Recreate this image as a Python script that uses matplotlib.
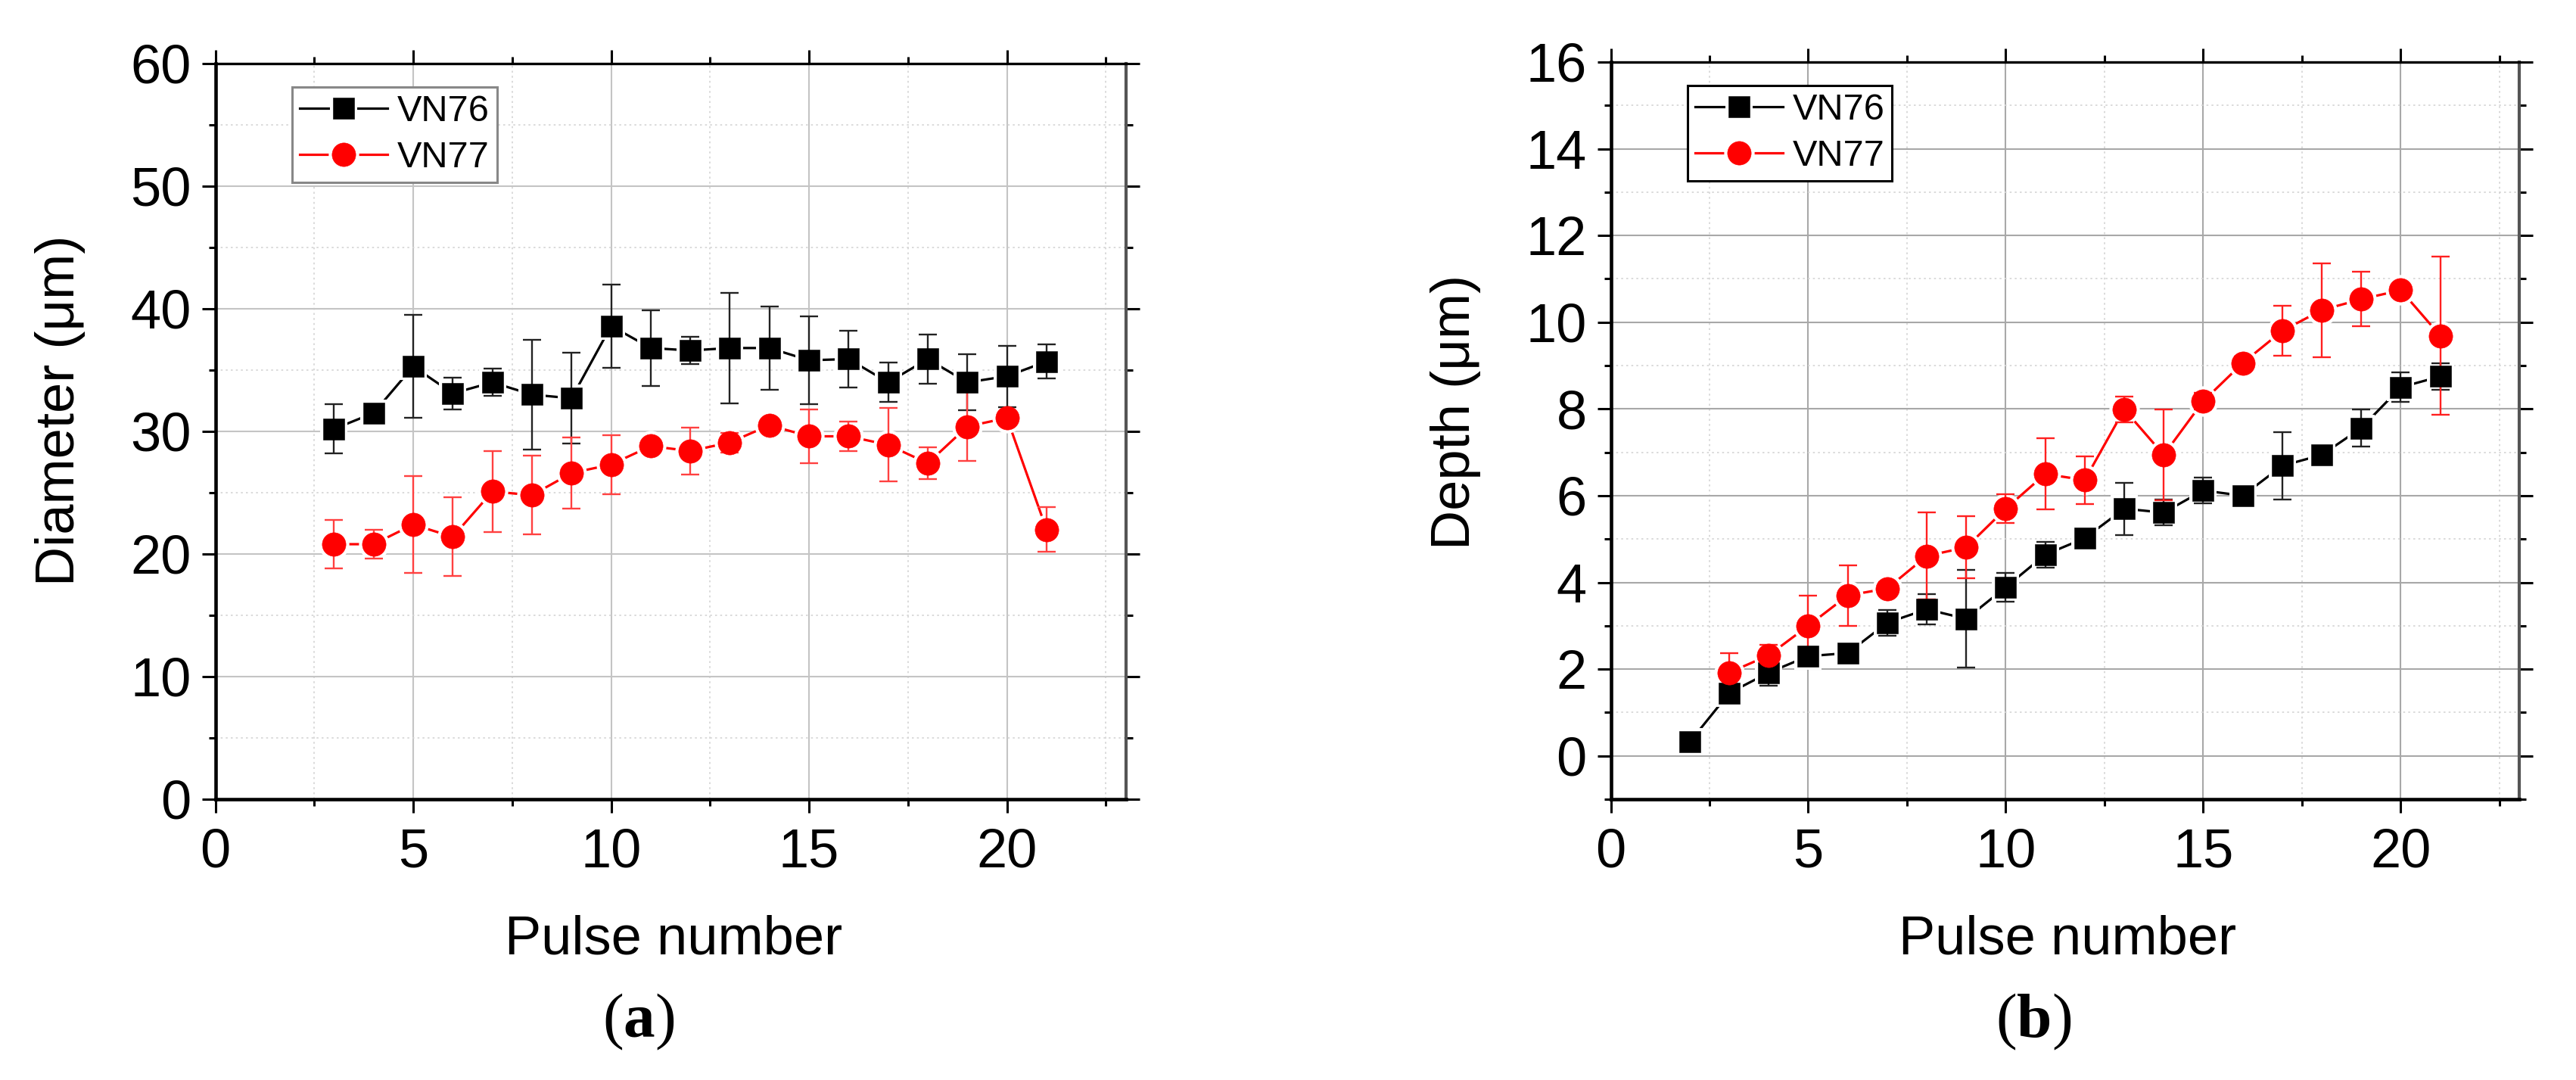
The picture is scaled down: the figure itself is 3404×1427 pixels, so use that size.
import matplotlib
matplotlib.use('Agg')
import matplotlib.pyplot as plt
from matplotlib.lines import Line2D
from matplotlib.legend_handler import HandlerTuple
from matplotlib.ticker import MultipleLocator

# ---------------- data ----------------
pulse_diam = [3, 4, 5, 6, 7, 8, 9, 10, 11, 12, 13, 14, 15, 16, 17, 18, 19, 20, 21]
diam_vn76 = [30.2, 31.5, 35.3, 33.1, 34.0, 33.0, 32.7, 38.6, 36.8, 36.6, 36.8, 36.8,
             35.8, 35.9, 34.0, 35.9, 34.0, 34.5, 35.7]
diam_vn76_err = [2.0, 0.6, 4.2, 1.3, 1.1, 4.5, 3.7, 3.4, 3.1, 1.1, 4.5, 3.4,
                 3.6, 2.3, 1.6, 2.0, 2.3, 2.5, 1.4]
diam_vn77 = [20.8, 20.8, 22.4, 21.4, 25.1, 24.8, 26.6, 27.3, 28.8, 28.4, 29.1, 30.5,
             29.6, 29.6, 28.9, 27.4, 30.4, 31.1, 22.0]
diam_vn77_err = [1.95, 1.15, 3.95, 3.2, 3.3, 3.2, 2.9, 2.4, 0.5, 1.9, 0.8, 0.5,
                 2.2, 1.2, 3.0, 1.3, 2.8, 0.5, 1.8]

pulse_depth_vn76 = [2, 3, 4, 5, 6, 7, 8, 9, 10, 11, 12, 13, 14, 15, 16, 17, 18, 19, 20, 21]
depth_vn76 = [0.32, 1.45, 1.92, 2.30, 2.37, 3.07, 3.38, 3.16, 3.89, 4.64, 5.02, 5.70,
              5.61, 6.12, 6.00, 6.69, 6.94, 7.56, 8.50, 8.75]
depth_vn76_err = [0.0, 0.2, 0.3, 0.2, 0.1, 0.3, 0.35, 1.13, 0.33, 0.3, 0.1, 0.6,
                  0.3, 0.3, 0.1, 0.77, 0.15, 0.42, 0.34, 0.3]
pulse_depth_vn77 = [3, 4, 5, 6, 7, 8, 9, 10, 11, 12, 13, 14, 15, 16, 17, 18, 19, 20, 21]
depth_vn77 = [1.92, 2.32, 3.00, 3.70, 3.86, 4.61, 4.81, 5.70, 6.50, 6.36, 7.99, 6.94,
              8.18, 9.06, 9.80, 10.28, 10.53, 10.74, 9.69]
depth_vn77_err = [0.45, 0.24, 0.70, 0.70, 0.15, 1.0, 0.72, 0.33, 0.82, 0.55, 0.3, 1.05,
                  0.2, 0.15, 0.58, 1.08, 0.63, 0.15, 1.82]

series_names = ['VN76', 'VN77']
diam_ylabel = 'Diameter (\u03bcm)'
depth_ylabel = 'Depth (\u03bcm)'
xlabel = 'Pulse number'

# ---------------- style ----------------
plt.rcParams['font.family'] = ['Liberation Sans', 'DejaVu Sans']
plt.rcParams['mathtext.fontset'] = 'custom'
plt.rcParams['mathtext.rm'] = 'Liberation Serif'
plt.rcParams['mathtext.bf'] = 'Liberation Serif:bold'

W, H, DPI = 3404, 1427, 100
fig = plt.figure(figsize=(W / DPI, H / DPI), dpi=DPI)
fig.patch.set_facecolor('white')


def px_axes(x0, x1, top, bottom):
    return fig.add_axes([x0 / W, 1 - bottom / H, (x1 - x0) / W, (bottom - top) / H])


axL = px_axes(284.5, 1487.5, 84, 1056)
axR = px_axes(2128.5, 3329, 82, 1056)

SQ_MS = 20.0
CI_MS = 22.5
HALO = 6.5
LW = 2.3


def series(ax, x, y, e, color, ecolor, marker, ms, z):
    ax.plot(x, y, '-', color=color, lw=LW, zorder=2)
    ax.plot(x, y, ls='none', marker=marker, ms=ms + HALO, mfc='white', mec='white',
            mew=0, zorder=3)
    ax.errorbar(x, y, yerr=e, fmt='none', ecolor=ecolor, elinewidth=1.7, capsize=8.3,
                capthick=1.7, zorder=4)
    ax.plot(x, y, ls='none', marker=marker, ms=ms, mfc=color, mec=color, mew=0.4, zorder=z)


def style(ax, ylim, ymaj, ymin, gridcolor, legend_edge, ylabel, ylabel_y):
    ax.set_xlim(0, 23)
    ax.set_ylim(*ylim)
    ax.xaxis.set_major_locator(MultipleLocator(5))
    ax.xaxis.set_minor_locator(MultipleLocator(2.5))
    ax.yaxis.set_major_locator(MultipleLocator(ymaj))
    ax.yaxis.set_minor_locator(MultipleLocator(ymin))
    ax.set_axisbelow(True)
    ax.grid(which='major', color=gridcolor, lw=1.5, zorder=0)
    ax.grid(which='minor', color='#d4d4d4', lw=1.2, linestyle=(0, (1.5, 2.5)), zorder=0)
    ax.tick_params(which='both', direction='out', top=True, right=True, width=2.2,
                   colors='black', labelsize=52)
    ax.tick_params(which='major', length=13)
    ax.tick_params(which='minor', length=6.5)
    ax.tick_params(axis='x', pad=14)
    ax.tick_params(axis='y', pad=10)
    for side in ('left', 'bottom'):
        ax.spines[side].set_linewidth(3.3)
        ax.spines[side].set_color('black')
    ax.spines['top'].set_linewidth(2.4)
    ax.spines['top'].set_color('black')
    ax.spines['right'].set_linewidth(3.0)
    ax.spines['right'].set_color('#555555')

    ax.set_ylabel(ylabel, fontsize=52)
    ax.yaxis.set_label_coords(-0.1426, ylabel_y)
    ax.set_xlabel(xlabel, fontsize=52)
    ax.xaxis.label.set_va('baseline')
    ax.xaxis.set_label_coords(0.503, -0.2104)

    handles = []
    for color, marker, ms in (('black', 's', SQ_MS), ('red', 'o', CI_MS)):
        ln = Line2D([], [], color=color, lw=LW)
        halo = Line2D([], [], ls='none', marker=marker, ms=ms + HALO, mfc='white',
                      mec='white', mew=0)
        mk = Line2D([], [], ls='none', marker=marker, ms=ms, mfc=color, mec=color, mew=0.4)
        handles.append((ln, halo, mk))
    leg = ax.legend(handles, series_names, loc='upper left', bbox_to_anchor=(0.0844, 0.968),
                    borderaxespad=0, fontsize=35, handlelength=2.39, handletextpad=0.27,
                    borderpad=0.2, labelspacing=0.34, frameon=True, fancybox=False,
                    edgecolor=legend_edge, framealpha=1,
                    handler_map={tuple: HandlerTuple(ndivide=1, pad=0)})
    leg.get_frame().set_linewidth(2.2)
    leg.set_zorder(10)


series(axL, pulse_diam, diam_vn76, diam_vn76_err, 'black', '#222222', 's', SQ_MS, 5)
series(axL, pulse_diam, diam_vn77, diam_vn77_err, 'red', '#ff4040', 'o', CI_MS, 6)
style(axL, (0, 60), 10, 5, '#c4c4c4', '#888888', diam_ylabel, 0.528)

series(axR, pulse_depth_vn76, depth_vn76, depth_vn76_err, 'black', '#222222', 's', SQ_MS, 5)
series(axR, pulse_depth_vn77, depth_vn77, depth_vn77_err, 'red', '#ff2020', 'o', CI_MS, 6)
style(axR, (-1, 16), 2, 1, '#a8a8a8', 'black', depth_ylabel, 0.525)

fig.text(844 / W, 1 - 1370 / H, r'$\mathrm{(}\mathbf{a}\mathrm{)}$', fontsize=60,
         ha='center', va='baseline')
fig.text(2687 / W, 1 - 1370 / H, r'$\mathrm{(}\mathbf{b}\mathrm{)}$', fontsize=60,
         ha='center', va='baseline')

fig.savefig('out.png', dpi=DPI, facecolor='white')
